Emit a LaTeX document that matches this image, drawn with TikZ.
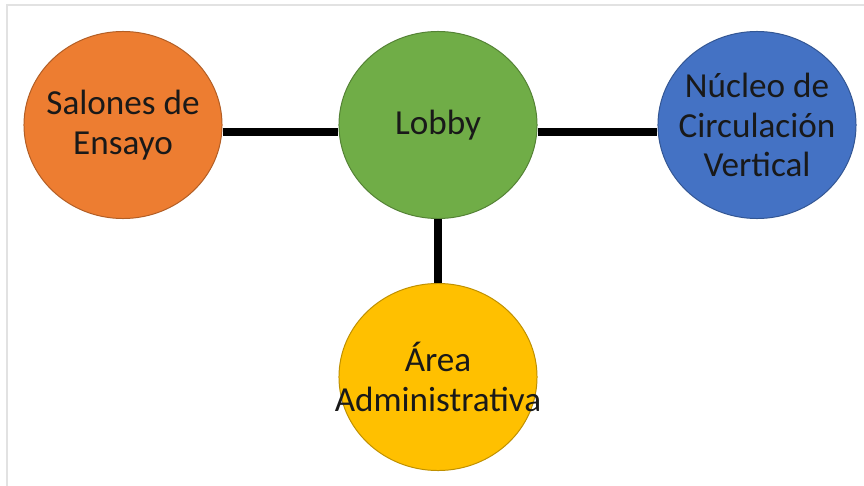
\documentclass[tikz,border=0pt]{standalone}
\usepackage{fontspec}
\setmainfont{Carlito}
\usetikzlibrary{shapes.geometric}
\definecolor{salon}{RGB}{237,125,49}
\definecolor{lobbyc}{RGB}{112,173,71}
\definecolor{nucleo}{RGB}{68,114,196}
\definecolor{admin}{RGB}{255,192,0}
\definecolor{frame}{RGB}{226,226,226}
\newcommand{\zw}[1]{\makebox[0pt]{#1}}

\begin{document}
\begin{tikzpicture}[x=0.025cm, y=-0.025cm,
    room/.style={ellipse, draw=#1!75!black, fill=#1, line width=0.7pt, inner sep=0pt,
                 minimum width=4.95cm, minimum height=4.675cm, align=center,
                 text=black!90, font=\fontsize{25}{28}\selectfont},
    link/.style={line width=6pt, black}]
  \useasboundingbox (0,0) rectangle (864,486);
  % ================================================================== frame
  \draw[frame, line width=1.4pt] (7,486) -- (7,5) -- (864,5);
  % ================================================================== rooms
  \node[room=salon]  (salones) at (123,125) {\zw{Salones de}\\\zw{Ensayo}};
  \node[room=lobbyc] (lobby)   at (438,125) {\zw{Lobby}};
  \node[room=nucleo] (nucleo)  at (757,125) {\zw{Núcleo de}\\\zw{Circulación}\\\zw{Vertical}};
  \node[room=admin]  (admin)   at (438,377) {\zw{Área}\\\zw{Administrativa}};
  % ================================================================== links
  \draw[link] ([yshift=-5pt]salones.east) -- ([yshift=-5pt]lobby.west);
  \draw[link] ([yshift=-5pt]lobby.east) -- ([yshift=-5pt]nucleo.west);
  \draw[link] (lobby.south) -- (admin.north);
\end{tikzpicture}
\end{document}
